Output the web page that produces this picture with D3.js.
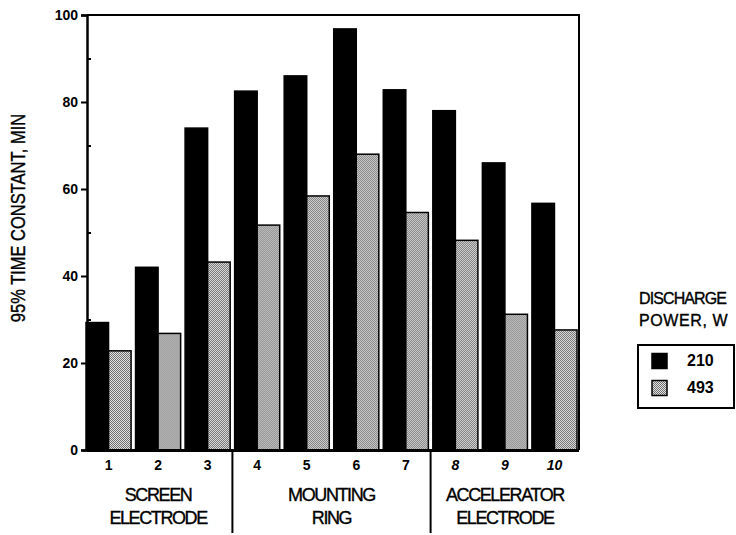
<!DOCTYPE html>
<html>
<head>
<meta charset="utf-8">
<script src="https://cdn.jsdelivr.net/npm/d3@7"></script>
<style>
  html, body { margin: 0; padding: 0; background: #fff; }
  svg { display: block; font-family: "Liberation Sans", Arial, Helvetica, sans-serif; }
</style>
</head>
<body>
<svg id="chart" width="736" height="535"></svg>
<script>
// ---- data ----
const categories = ["1", "2", "3", "4", "5", "6", "7", "8", "9", "10"];
const seriesNames = ["210", "493"];
const values210 = [29.3, 42.0, 74.0, 82.5, 86.0, 96.8, 82.8, 78.0, 66.0, 56.7];
const values493 = [22.8, 26.8, 43.2, 51.7, 58.4, 68.0, 54.6, 48.2, 31.2, 27.6];
const groupNames = [["SCREEN", "ELECTRODE"], ["MOUNTING", "RING"], ["ACCELERATOR", "ELECTRODE"]];
const groupMembers = [["1", "3"], ["4", "7"], ["8", "10"]];
const yTicks = [0, 20, 40, 60, 80, 100];
const yMinorTicks = [10, 30, 50, 70, 90];
const legendTitle = ["DISCHARGE", "POWER, W"];
const yTitle = "95% TIME CONSTANT, MIN";

const svg = d3.select("#chart");
const pLeft = 87, pRight = 579, pTop = 15, pBottom = 450;
const FONT = "'Liberation Sans', Arial, Helvetica, sans-serif";

// pattern for the grey (dithered) series
const defs = svg.append("defs");
const pat = defs.append("pattern").attr("id", "dither")
  .attr("patternUnits", "userSpaceOnUse").attr("width", 2).attr("height", 2);
pat.append("rect").attr("width", 2).attr("height", 2).attr("fill", "#e2e2e2");
pat.append("rect").attr("x", 0).attr("y", 0).attr("width", 1).attr("height", 1).attr("fill", "#707070");
pat.append("rect").attr("x", 1).attr("y", 1).attr("width", 1).attr("height", 1).attr("fill", "#707070");

const y = d3.scaleLinear().domain([0, 100]).range([pBottom, pTop]);
const x0 = d3.scaleBand().domain(categories).range([86, 577]).paddingInner(0.09).paddingOuter(0);
const x1 = d3.scaleBand().domain(seriesNames).range([0, x0.bandwidth()]).padding(0);
const fills = { "210": "#000", "493": "url(#dither)" };

const rows = categories.map((c, i) => ({ cat: c, vals: [
  { key: "210", v: values210[i] }, { key: "493", v: values493[i] } ] }));

// bars
const g = svg.append("g");
g.selectAll("g.grp").data(rows).join("g")
  .attr("class", "grp")
  .attr("transform", d => `translate(${x0(d.cat)},0)`)
  .selectAll("rect").data(d => d.vals).join("rect")
  .attr("x", d => x1(d.key))
  .attr("y", d => y(d.v))
  .attr("width", x1.bandwidth())
  .attr("height", d => y(0) - y(d.v))
  .attr("fill", d => fills[d.key])
  .attr("stroke", "#000")
  .attr("stroke-width", 1.5);

// frame (top & right)
svg.append("path")
  .attr("d", `M${pLeft},${pTop}H${pRight}V${pBottom}`)
  .attr("fill", "none").attr("stroke", "#000").attr("stroke-width", 2);

// y axis
const yAxis = d3.axisLeft(y).tickValues(yTicks).tickSize(6).tickPadding(3).tickFormat(d3.format("d"));
const ya = svg.append("g").attr("transform", `translate(${pLeft},0)`).call(yAxis);
ya.select(".domain").attr("stroke-width", 2.5);
ya.selectAll(".tick line").attr("stroke-width", 2);
ya.selectAll(".tick text").attr("font-size", 14).attr("font-weight", "bold").attr("fill", "#000")
  .attr("font-family", FONT);
const yMinor = d3.axisRight(y).tickValues(yMinorTicks).tickSize(4).tickFormat("");
const ym = svg.append("g").attr("transform", `translate(${pLeft},0)`).call(yMinor);
ym.select(".domain").remove();
ym.selectAll(".tick line").attr("stroke-width", 2);

// x axis
const xAxis = d3.axisBottom(x0).tickSize(0).tickPadding(10);
const xa = svg.append("g").attr("transform", `translate(0,${pBottom})`).call(xAxis);
xa.select(".domain").attr("d", `M${pLeft},0.5H${pRight}`).attr("stroke-width", 3);
xa.selectAll(".tick text").attr("font-size", 14).attr("font-weight", "bold").attr("fill", "#000")
  .attr("font-family", FONT)
  .attr("font-style", d => (+d >= 8 ? "italic" : "normal"));

// group separators
const seps = [
  (x0("3") + x0.bandwidth() + x0("4")) / 2,
  (x0("7") + x0.bandwidth() + x0("8")) / 2
];
svg.selectAll("line.sep").data(seps).join("line")
  .attr("class", "sep")
  .attr("x1", d => d).attr("x2", d => d)
  .attr("y1", pBottom).attr("y2", 533)
  .attr("stroke", "#000").attr("stroke-width", 2);

// group labels
groupNames.forEach((lines, i) => {
  const a = x0(groupMembers[i][0]), b = x0(groupMembers[i][1]) + x0.bandwidth();
  const cx = (a + b) / 2;
  lines.forEach((t, j) => {
    svg.append("text")
      .attr("x", cx).attr("y", 496 + j * 23)
      .attr("text-anchor", "middle").attr("dominant-baseline", "middle")
      .attr("font-size", 18).attr("letter-spacing", -1.4)
      .attr("stroke", "#000").attr("stroke-width", 0.35)
      .text(t);
  });
});

// y title
svg.append("text")
  .attr("transform", `translate(20,218) rotate(-90) scale(1,1.2)`)
  .attr("text-anchor", "middle").attr("dominant-baseline", "middle")
  .attr("font-size", 16.5)
  .attr("stroke", "#000").attr("stroke-width", 0.3)
  .text(yTitle);

// legend
legendTitle.forEach((t, j) => {
  svg.append("text").attr("x", 639).attr("y", 300 + j * 22)
    .attr("dominant-baseline", "middle")
    .attr("font-size", 16).attr("letter-spacing", j === 0 ? -0.9 : 0.6)
    .attr("stroke", "#000").attr("stroke-width", 0.35)
    .text(t);
});
svg.append("rect").attr("x", 638).attr("y", 345).attr("width", 96).attr("height", 63)
  .attr("fill", "none").attr("stroke", "#000").attr("stroke-width", 2);
const ly = d3.scalePoint().domain(seriesNames).range([361, 388]);
const leg = svg.selectAll("g.leg").data(seriesNames).join("g").attr("class", "leg")
  .attr("transform", d => `translate(652,${ly(d)})`);
leg.append("rect").attr("x", 0).attr("y", -7.5).attr("width", 15).attr("height", 15)
  .attr("fill", d => fills[d]).attr("stroke", "#000").attr("stroke-width", 1.5);
leg.append("text").attr("x", 35).attr("y", 1).attr("dominant-baseline", "middle")
  .attr("font-size", 16).attr("font-weight", "bold").text(d => d);
</script>
</body>
</html>
